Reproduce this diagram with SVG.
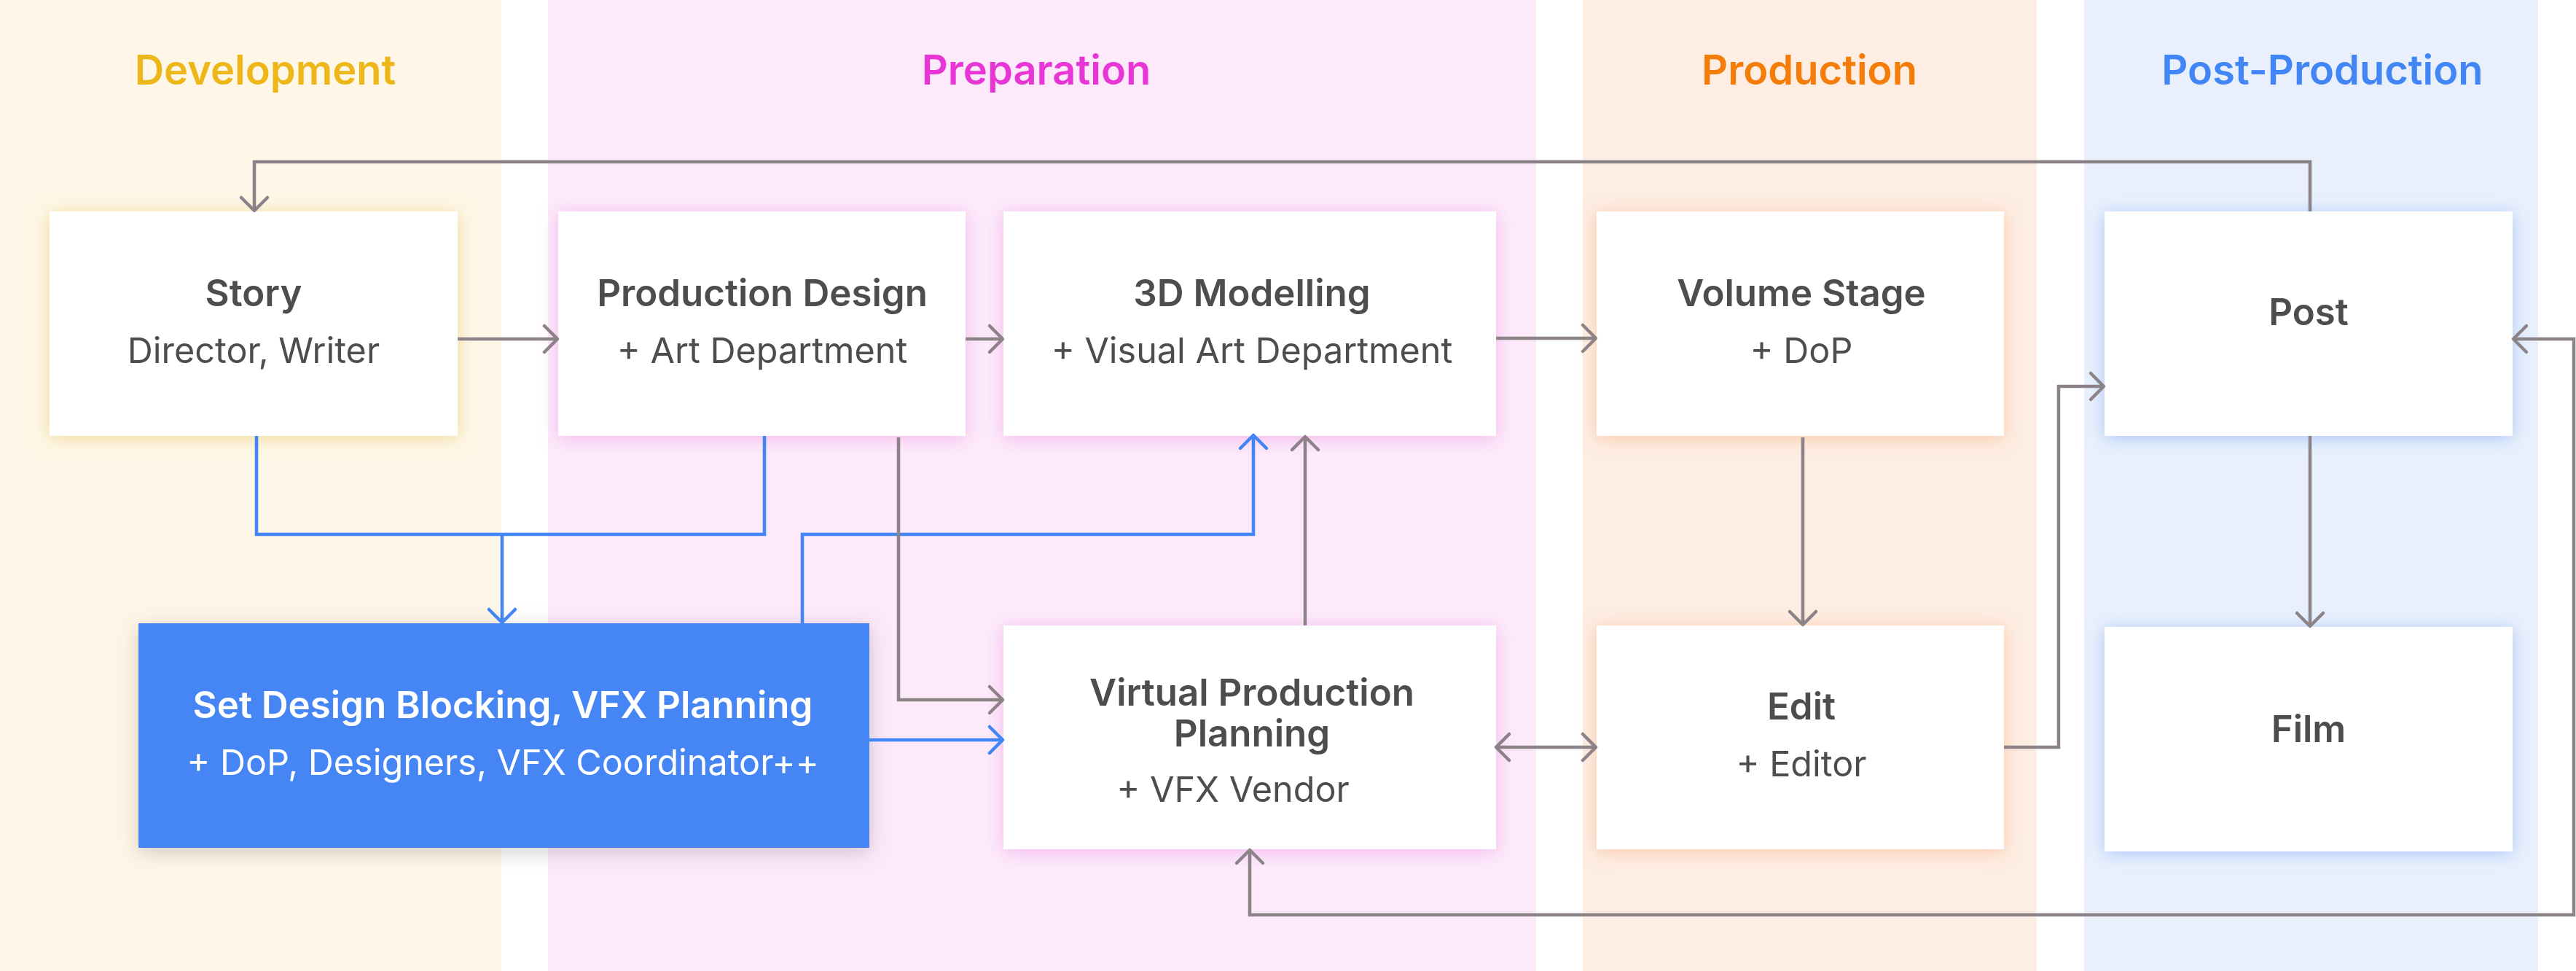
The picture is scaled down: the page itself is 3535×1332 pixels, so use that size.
<svg xmlns="http://www.w3.org/2000/svg" width="3535" height="1332" viewBox="0 0 3535 1332">
  <defs>
    <style>
      .band-title { font-family: Inter, "Liberation Sans", sans-serif; font-weight: 600; font-size: 56px; text-anchor: middle; }
      .t { font-family: Inter, "Liberation Sans", sans-serif; font-weight: 600; font-size: 51px; fill: #4d4d4d; text-anchor: middle; }
      .s { font-family: Inter, "Liberation Sans", sans-serif; font-weight: 400; font-size: 48.5px; fill: #4d4d4d; text-anchor: middle; }
      .w { fill: #ffffff; }
      .box { fill: #ffffff; }
      .g { fill: none; stroke: #8b8388; stroke-width: 4.5; stroke-linejoin: miter; }
      .b { fill: none; stroke: #4285f4; stroke-width: 4.5; stroke-linejoin: miter; }
      .ga { marker-end: url(#ag); }
      .ba { marker-end: url(#ab); }
    </style>
    <marker id="ag" markerUnits="userSpaceOnUse" viewBox="-24 -24 30 48" refX="0" refY="0" markerWidth="30" markerHeight="48" orient="auto-start-reverse">
      <path d="M-18,-18 L0,0 L-18,18" fill="none" stroke="#8b8388" stroke-width="4.5" stroke-linecap="round" stroke-linejoin="round"/>
    </marker>
    <marker id="ab" markerUnits="userSpaceOnUse" viewBox="-24 -24 30 48" refX="0" refY="0" markerWidth="30" markerHeight="48" orient="auto-start-reverse">
      <path d="M-18,-18 L0,0 L-18,18" fill="none" stroke="#4285f4" stroke-width="4.5" stroke-linecap="round" stroke-linejoin="round"/>
    </marker>
    <filter id="fy" x="-20%" y="-30%" width="140%" height="160%">
      <feDropShadow dx="0" dy="3" stdDeviation="12" flood-color="#efd48e" flood-opacity="0.85"/>
    </filter>
    <filter id="fp" x="-20%" y="-30%" width="140%" height="160%">
      <feDropShadow dx="0" dy="3" stdDeviation="12" flood-color="#f2a9ea" flood-opacity="0.8"/>
    </filter>
    <filter id="fo" x="-20%" y="-30%" width="140%" height="160%">
      <feDropShadow dx="0" dy="3" stdDeviation="12" flood-color="#f9be96" flood-opacity="0.8"/>
    </filter>
    <filter id="fb" x="-20%" y="-30%" width="140%" height="160%">
      <feDropShadow dx="0" dy="3" stdDeviation="12" flood-color="#9fbff7" flood-opacity="0.85"/>
    </filter>
    <filter id="fg" x="-20%" y="-30%" width="140%" height="160%">
      <feDropShadow dx="0" dy="6" stdDeviation="14" flood-color="#6e5a63" flood-opacity="0.3"/>
    </filter>
  </defs>

  <rect width="3535" height="1332" fill="#ffffff"/>

  <g id="bands">
    <rect x="0" y="0" width="688" height="1332" fill="#fef7e7"/>
    <rect x="752" y="0" width="1356" height="1332" fill="#fceafa"/>
    <rect x="2172" y="0" width="623" height="1332" fill="#fdede3"/>
    <rect x="2860" y="0" width="623" height="1332" fill="#e9f0fc"/>
    <text class="band-title" x="364" y="116" fill="#edb719">Development</text>
    <text class="band-title" x="1422" y="116" fill="#e836d6">Preparation</text>
    <text class="band-title" x="2483" y="116" fill="#f47c08">Production</text>
    <text class="band-title" x="3187" y="116" fill="#4285f4">Post-Production</text>
  </g>

  <g id="story">
    <rect class="box" x="68" y="290" width="560" height="308" filter="url(#fy)"/>
    <text class="t" x="348" y="420">Story</text>
    <text class="s" x="348" y="498">Director, Writer</text>
  </g>

  <g id="production-design">
    <rect class="box" x="766" y="290" width="559" height="308" filter="url(#fp)"/>
    <text class="t" x="1046" y="420">Production Design</text>
    <text class="s" x="1046" y="498">+ Art Department</text>
  </g>

  <g id="modelling-3d">
    <rect class="box" x="1377" y="290" width="676" height="308" filter="url(#fp)"/>
    <text class="t" x="1718" y="420">3D Modelling</text>
    <text class="s" x="1718" y="498">+ Visual Art Department</text>
  </g>

  <g id="volume-stage">
    <rect class="box" x="2191" y="290" width="559" height="308" filter="url(#fo)"/>
    <text class="t" x="2472" y="420">Volume Stage</text>
    <text class="s" x="2472" y="498">+ DoP</text>
  </g>

  <g id="post">
    <rect class="box" x="2888" y="290" width="560" height="308" filter="url(#fb)"/>
    <text class="t" x="3168" y="446">Post</text>
  </g>

  <g id="set-design">
    <rect x="190" y="855" width="1003" height="308" fill="#4485f4" filter="url(#fg)"/>
    <text class="t w" x="690" y="985">Set Design Blocking, VFX Planning</text>
    <text class="s w" x="690" y="1063">+ DoP, Designers, VFX Coordinator++</text>
  </g>

  <g id="virtual-production-planning">
    <rect class="box" x="1377" y="858" width="676" height="307" filter="url(#fp)"/>
    <text class="t" x="1718" y="968">Virtual Production</text>
    <text class="t" x="1718" y="1024">Planning</text>
    <text class="s" x="1692" y="1100">+ VFX Vendor</text>
  </g>

  <g id="edit">
    <rect class="box" x="2191" y="858" width="559" height="307" filter="url(#fo)"/>
    <text class="t" x="2472" y="987">Edit</text>
    <text class="s" x="2472" y="1065">+ Editor</text>
  </g>

  <g id="film">
    <rect class="box" x="2888" y="860" width="560" height="308" filter="url(#fb)"/>
    <text class="t" x="3168" y="1018">Film</text>
  </g>

  <g id="connectors">
    <path class="g ga" d="M3170,290 V222 H349 V289"/>
    <path class="g ga" d="M628,465 H765"/>
    <path class="g ga" d="M1325,465 H1376"/>
    <path class="g ga" d="M2053,464 H2190"/>
    <path class="b" d="M352,598 V733 H1049 V598"/>
    <path class="b ba" d="M689,733 V854"/>
    <path class="b ba" d="M1101,855 V733 H1720 V597"/>
    <path class="g ga" d="M1233,600 V960 H1376"/>
    <path class="b ba" d="M1193,1015 H1376"/>
    <path class="g ga" d="M1791,858 V599"/>
    <path class="g ga" d="M2474,600 V857"/>
    <path class="g ga" d="M2053,1025 H2190" marker-start="url(#ag)"/>
    <path class="g ga" d="M2750,1025 H2825 V530 H2887"/>
    <path class="g ga" d="M3170,598 V859"/>
    <path class="g ga" d="M1715,1166 V1255 H3532 V465 H3449" marker-start="url(#ag)"/>
  </g>
</svg>
